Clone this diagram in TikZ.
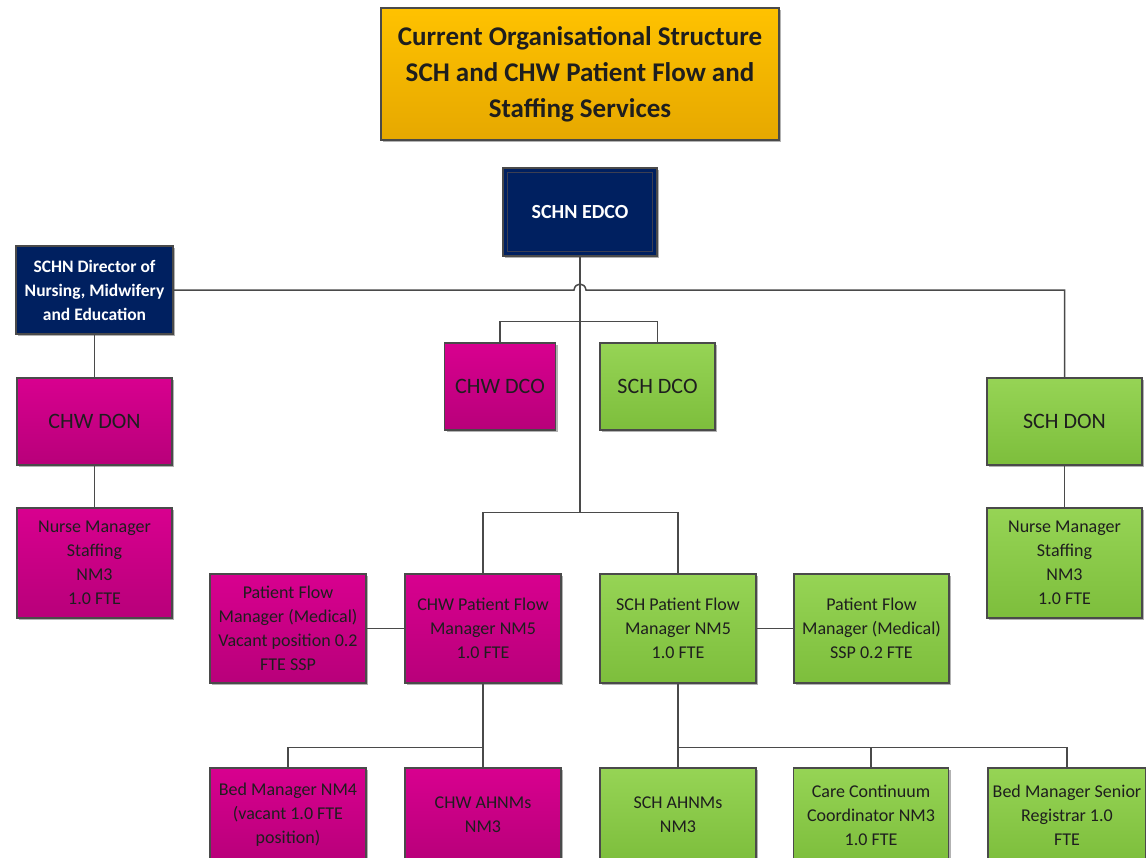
\documentclass[tikz,border=0pt]{standalone}
\usepackage{fontspec}
\setmainfont{Carlito}
\usetikzlibrary{shadows}
\definecolor{magT}{HTML}{D8008F}
\definecolor{magB}{HTML}{B8007A}
\definecolor{grnT}{HTML}{96D455}
\definecolor{grnB}{HTML}{7DBE3C}
\definecolor{navy}{HTML}{002060}
\definecolor{golT}{HTML}{FFC200}
\definecolor{golB}{HTML}{E6A800}
\definecolor{linec}{HTML}{4A4A4A}
\definecolor{txt}{HTML}{1E1E1E}
\definecolor{innerc}{HTML}{3C3F52}
\begin{document}
\begin{tikzpicture}[x=1pt,y=-1pt,
  sz/.style 2 args={minimum width=#1pt, minimum height=#2pt},
  basebox/.style={draw=linec, line width=1.2pt, inner sep=2pt, align=center,
    drop shadow={shadow xshift=2pt,shadow yshift=-2pt,opacity=0.3,fill=black}},
  magbox/.style={basebox, top color=magT, bottom color=magB, text=txt,
    font=\fontsize{18}{24}\selectfont},
  grnbox/.style={basebox, top color=grnT, bottom color=grnB, text=txt,
    font=\fontsize{18}{24}\selectfont},
  bigtxt/.style={font=\fontsize{22}{26}\selectfont},
  navybox/.style={basebox, fill=navy, text=white},
  conn/.style={draw=linec, line width=1.5pt}
]
\clip (0,0) rectangle (1146,857);

% title
\node[basebox, sz={398}{132}, top color=golT, bottom color=golB, text=txt,
  font=\bfseries\fontsize{27}{36}\selectfont] (title) at (580,74)
  {Current Organisational Structure\\SCH and CHW Patient Flow and\\Staffing Services};

% top level
\node[navybox, sz={154}{88}, font=\bfseries\fontsize{20}{24}\selectfont] (edco) at (580,212) {SCHN EDCO};
\draw[innerc, line width=1.2pt] ([xshift=5pt,yshift=-5pt]edco.north west) rectangle ([xshift=-5pt,yshift=5pt]edco.south east);
\node[navybox, sz={157}{88}, font=\bfseries\fontsize{17.5}{24}\selectfont] (dir) at (94.5,290)
  {SCHN Director of\\Nursing, Midwifery\\and Education};

% second level
\node[magbox, bigtxt, sz={155}{87}] (chwdon) at (94.5,421.5) {CHW DON};
\node[magbox, sz={155}{110}] (nmL) at (94.5,563) {Nurse Manager\\Staffing\\NM3\\1.0 FTE};
\node[magbox, bigtxt, sz={111}{87}] (chwdco) at (500,386.5) {CHW DCO};
\node[grnbox, bigtxt, sz={115}{87}] (schdco) at (657.5,386.5) {SCH DCO};
\node[grnbox, bigtxt, sz={155}{87}] (schdon) at (1064.5,421.5) {SCH DON};
\node[grnbox, sz={155}{110}] (nmR) at (1064.5,563) {Nurse Manager\\Staffing\\NM3\\1.0 FTE};

% patient flow row
\node[magbox, sz={156}{109}] (pfmL) at (288,628.5) {Patient Flow\\Manager (Medical)\\Vacant position 0.2\\FTE SSP};
\node[magbox, sz={156}{109}] (chwpfm) at (483,628.5) {CHW Patient Flow\\Manager NM5\\1.0 FTE};
\node[grnbox, sz={156}{109}] (schpfm) at (678,628.5) {SCH Patient Flow\\Manager NM5\\1.0 FTE};
\node[grnbox, sz={155}{109}] (pfmR) at (871.5,628.5) {Patient Flow\\Manager (Medical)\\SSP 0.2 FTE};

% bottom row
\node[magbox, sz={156}{94}] (bm4) at (288,815) {Bed Manager NM4\\(vacant 1.0 FTE\\position)};
\node[magbox, sz={156}{94}] (chwah) at (483,815) {CHW AHNMs\\NM3};
\node[grnbox, sz={156}{94}] (schah) at (678,815) {SCH AHNMs\\NM3};
\node[grnbox, sz={155}{94}] (ccc) at (871,815) {Care Continuum\\Coordinator NM3\\1.0 FTE};
\node[grnbox, sz={158}{94}] (bms) at (1067,815) {Bed Manager Senior\\Registrar 1.0\\FTE};

% connectors
\coordinate (bus) at (580,513);
\draw[conn] (edco.south) -- (bus);
\draw[conn] (dir.east) -- ([xshift=-6pt]dir.east -| edco.south)
  .. controls +(1,-8) and +(-1,-8) .. ([xshift=6pt]dir.east -| edco.south)
  -| (schdon.north);
\draw[conn] (chwdco.north) -- ++(0,-21) -| (schdco.north);
\draw[conn] (dir.south) -- (chwdon.north);
\draw[conn] (chwdon.south) -- (nmL.north);
\draw[conn] (schdon.south) -- (nmR.north);
\draw[conn] (chwpfm.north) -- ++(0,-61) -| (schpfm.north);
\draw[conn] (pfmL.east) -- (chwpfm.west);
\draw[conn] (schpfm.east) -- (pfmR.west);
\draw[conn] (chwpfm.south) -- (chwah.north);
\draw[conn] (bm4.north) -- ++(0,-20) -| (chwah.north);
\draw[conn] (schpfm.south) -- (schah.north);
\draw[conn] (schah.north) -- ++(0,-20) -| (bms.north);
\draw[conn] (ccc.north) -- ++(0,-20);
\end{tikzpicture}
\end{document}
